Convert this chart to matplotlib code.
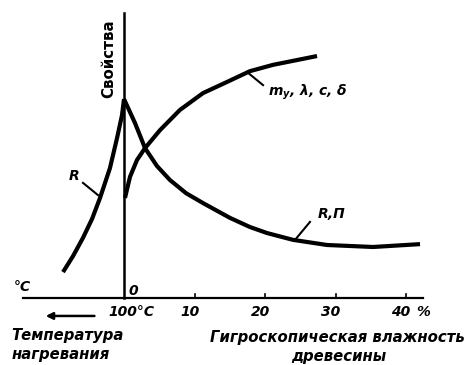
import matplotlib
matplotlib.use("Agg")
import matplotlib.pyplot as plt

# Curve data: x = moisture % (negative = temperature side), y = property (0..100)
r_x = [-8.65, -7.23, -5.82, -4.54, -3.40, -1.99, -0.99, -0.28, 0.0]
r_y = [9.1, 14.7, 21.1, 27.7, 35.1, 45.6, 56.1, 64.2, 69.8]

rp_x = [0.0, 1.56, 2.98, 4.68, 6.52, 8.79, 11.21, 15.04, 17.87, 20.28,
        23.97, 28.79, 35.32, 41.99]
rp_y = [69.8, 61.4, 52.6, 46.3, 41.4, 36.8, 33.3, 28.1, 24.9, 22.8,
        20.4, 18.6, 17.9, 18.9]

m_x = [0.14, 0.85, 1.84, 2.98, 5.11, 7.94, 11.21, 14.61, 17.87, 21.13, 27.38]
m_y = [35.1, 42.5, 48.4, 52.6, 58.9, 66.0, 71.9, 75.8, 79.6, 81.8, 84.9]

tick_pos = [10, 20, 30, 40]
tick_labels = ["10", "20", "30", "40"]

X0, SX, Y0, SY = 124, 7.05, 298, 2.85

fig = plt.figure(figsize=(4.66, 3.65), dpi=100)
ax = fig.add_axes([0, 0, 1, 1])
ax.set_xlim(-X0 / SX, (466 - X0) / SX)
ax.set_ylim(-(365 - Y0) / SY, Y0 / SY)
ax.axis("off")

lw = 3.0
for xs, ys in [(r_x, r_y), (rp_x, rp_y), (m_x, m_y)]:
    ax.plot(xs, ys, color="black", lw=lw, solid_capstyle="butt",
            solid_joinstyle="round")

# axes
ax.plot([-14.33, 42.4], [0, 0], color="black", lw=1.6)
ax.plot([0, 0], [0, 100], color="black", lw=1.8)
for t in tick_pos:
    ax.plot([t, t], [0, 1.4], color="black", lw=1.2)

fs = 10
tick_font = dict(fontsize=fs, fontstyle="italic", fontweight="bold", family="DejaVu Sans")
for t, lab in zip(tick_pos, tick_labels):
    ax.text(t - 0.7, -4.8, lab, ha="center", va="center", **tick_font)
ax.text(42.4, -4.8, "%", ha="center", va="center", **tick_font)
ax.text(1.0, -4.8, "100°C", ha="center", va="center", **tick_font)
ax.text(1.3, 2.6, "0", ha="center", va="center", **tick_font)
ax.text(-14.4, 4.0, "°C", ha="center", va="center", **tick_font)

ax.annotate("", xy=(-11.5, -6.3), xytext=(-3.8, -6.3),
            arrowprops=dict(arrowstyle="-|>", color="black", lw=1.8,
                            mutation_scale=10))

lab_font = dict(fontsize=10.7, fontstyle="italic", fontweight="bold", family="DejaVu Sans")
ax.text(-16.0, -13.0, "Температура", ha="left", va="center", **lab_font)
ax.text(-16.0, -20.0, "нагревания", ha="left", va="center", **lab_font)
ax.text(30.2, -14.0, "Гигроскопическая влажность", ha="center", va="center", **lab_font)
ax.text(30.4, -20.4, "древесины", ha="center", va="center", **lab_font)

ax.text(-2.2, 84.0, "Свойства", rotation=90, ha="center", va="center",
        fontsize=10.8, fontweight="bold", family="DejaVu Sans")

# curve labels with leaders
cur_font = dict(fontsize=10, fontstyle="italic", fontweight="bold", family="DejaVu Sans")
ax.text(-7.1, 42.8, "R", ha="center", va="center", **cur_font)
ax.plot([-5.82, -3.69], [40.4, 36.1], color="black", lw=1.5)
ax.text(29.5, 29.5, "R,П", ha="center", va="center", **cur_font)
ax.plot([26.38, 24.26], [26.7, 20.4], color="black", lw=1.5)
ax.text(20.4, 72.3, r"$\mathbfit{m}_\mathbfit{y}$, λ, c, δ", ha="left", va="center", **cur_font)
ax.plot([17.45, 19.72], [79.3, 74.7], color="black", lw=1.5)

fig.savefig("out.png", dpi=100)
